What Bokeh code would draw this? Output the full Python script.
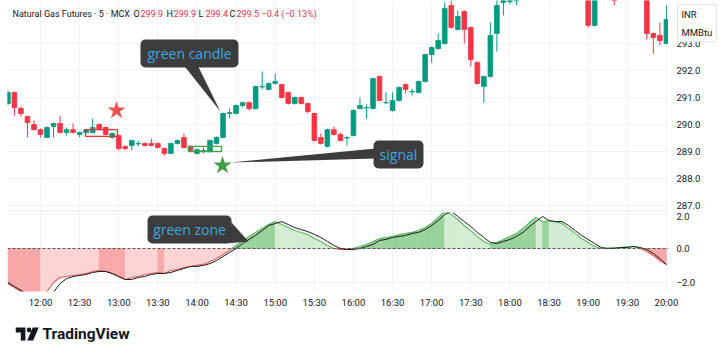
from bokeh.plotting import figure
from bokeh.layouts import column, row
from bokeh.models import Range1d, FixedTicker, Label, Span, ColumnDataSource
from bokeh.core.properties import value
from bokeh.embed import file_html
from bokeh.resources import INLINE

# ---------------- data ----------------
first_bar = "11:35"
bar_minutes = 5
N = None
opens = [290.78, 291.19, 290.59, 290.30, 290.00, 289.81, 289.52, 289.93, 290.04, 289.70,
         289.81, 289.63, 289.70, 289.70, 290.00, 289.89, 289.52, 289.59, 289.19, 289.22,
         289.28, 289.30, 289.30, 289.30, 289.11, 288.93, 289.30, 289.52, 289.19, 288.93,
         289.02, 289.00, 289.30, 289.52, 290.41, 290.41, 290.70, 290.81, 290.59, 291.39,
         291.30, 291.52, 291.48, 291.19, 290.78, 291.00, 290.78, 290.41, 289.52, 289.19,
         289.81, 289.63, 289.50, 289.59, 290.59, 290.61, 290.59, 291.78, 290.80, 290.52,
         290.89, 291.48, 291.21, 291.19, 291.59, 292.59, 292.81, 293.00, 294.41, 293.52,
         294.19, 293.59, 292.30, 291.41, 291.78, 293.37, 294.52, 294.55, 294.70,
         N, N, N, N, N, N, N, N, N, N,
         295.00, 293.67, N, N, 295.20, N, N, N, N, 295.00, 293.37, 293.30, 293.00]
highs = [291.26, 291.22, 290.67, 290.33, 290.15, 289.85, 289.93, 290.07, 290.33, 289.89,
         290.04, 289.74, 289.85, 290.22, 290.04, 289.93, 289.70, 289.63, 289.22, 289.44,
         289.41, 289.33, 289.48, 289.33, 289.15, 289.33, 289.44, 289.67, 289.22, 289.11,
         289.15, 289.44, 289.56, 290.44, 290.59, 290.74, 290.85, 290.85, 291.44, 291.96,
         291.56, 291.89, 291.52, 291.22, 291.04, 291.04, 290.81, 290.44, 289.67, 289.85,
         289.93, 289.70, 289.56, 290.56, 291.00, 290.74, 291.74, 291.81, 291.19, 291.19,
         291.41, 291.52, 291.33, 291.63, 292.63, 292.89, 293.37, 294.52, 294.70, 294.22,
         294.22, 293.63, 292.33, 291.81, 293.78, 294.70, 294.80, 294.80, 295.00,
         N, N, N, N, N, N, N, N, N, N,
         295.20, 295.20, N, N, 295.40, N, N, N, N, 295.20, 293.41, 293.78, 294.41]
lows = [290.70, 290.33, 290.30, 289.52, 289.78, 289.52, 289.52, 289.52, 289.67, 289.59,
        289.67, 289.52, 289.67, 289.67, 289.78, 289.59, 289.48, 289.04, 289.04, 289.04,
        289.19, 289.19, 289.19, 289.11, 288.85, 288.89, 289.26, 289.11, 289.00, 288.89,
        288.93, 288.96, 289.26, 289.48, 290.22, 290.37, 290.63, 290.52, 290.56, 291.30,
        291.26, 291.48, 290.96, 290.74, 290.74, 290.74, 290.41, 289.37, 289.26, 289.15,
        289.59, 289.37, 289.22, 289.56, 290.56, 290.22, 290.56, 290.85, 290.78, 290.48,
        290.85, 291.15, 291.07, 291.15, 291.56, 292.30, 292.78, 292.96, 293.56, 293.48,
        293.00, 292.15, 291.48, 290.81, 291.74, 292.70, 294.04, 294.45, 294.41,
        N, N, N, N, N, N, N, N, N, N,
        293.59, 293.63, N, N, 294.41, N, N, N, N, 293.15, 292.63, 292.93, 292.96]
closes = [291.19, 290.63, 290.41, 290.07, 289.81, 289.63, 289.89, 290.04, 289.70, 289.81,
          289.70, 289.70, 289.81, 289.89, 289.81, 289.63, 289.67, 289.11, 289.11, 289.41,
          289.30, 289.22, 289.22, 289.15, 288.93, 289.30, 289.41, 289.15, 289.04, 289.07,
          289.04, 289.41, 289.52, 290.41, 290.44, 290.70, 290.81, 290.59, 291.41, 291.41,
          291.52, 291.59, 291.00, 290.78, 291.00, 290.78, 290.48, 289.41, 289.30, 289.81,
          289.63, 289.41, 289.52, 290.52, 290.70, 290.63, 291.70, 290.89, 290.81, 290.89,
          291.37, 291.30, 291.22, 291.59, 292.59, 292.85, 293.11, 294.30, 293.59, 294.00,
          293.52, 292.41, 291.52, 291.78, 293.30, 294.41, 294.60, 294.60, 294.80,
          N, N, N, N, N, N, N, N, N, N,
          293.67, 295.00, N, N, 294.90, N, N, N, N, 293.37, 293.22, 293.11, 293.89]

osc_fast = [-2.09, -2.33, -2.57, -2.80, -2.95, -3.00, -2.57, -2.03, -1.73, -1.67,
            -1.61, -1.55, -1.49, -1.37, -1.31, -1.37, -1.49, -1.67, -1.85, -1.73,
            -1.67, -1.55, -1.49, -1.43, -1.49, -1.31, -1.25, -1.13, -1.07, -1.01,
            -0.95, -0.78, -0.60, -0.36, -0.12, 0.18, 0.48, 0.72, 0.96, 1.19,
            1.43, 1.61, 1.43, 1.25, 1.07, 0.96, 0.84, 0.60, 0.42, 0.18,
            0.00, -0.06, -0.06, 0.00, 0.12, 0.24, 0.42, 0.60, 0.66, 0.72,
            0.84, 0.90, 0.96, 1.07, 1.25, 1.49, 1.85, 2.21, 2.03, 1.73,
            1.37, 1.07, 0.72, 0.42, 0.24, 0.36, 0.54, 0.72, 0.90, 1.19,
            1.55, 1.85, 1.60, 1.66, 1.58, 1.50, 1.19, 0.90, 0.60, 0.36,
            0.12, 0.00, 0.02, 0.06, 0.06, 0.12, 0.12, 0.00, -0.18, -0.42,
            -0.72, -0.96]
osc_slow = [-2.03, -2.27, -2.50, -2.75, -2.95, -3.05, -2.95, -2.60, -2.10, -1.80,
            -1.67, -1.61, -1.55, -1.43, -1.37, -1.37, -1.49, -1.67, -1.85, -1.85,
            -1.73, -1.67, -1.55, -1.49, -1.49, -1.43, -1.31, -1.19, -1.07, -1.07,
            -1.01, -0.90, -0.72, -0.48, -0.24, 0.00, 0.30, 0.54, 0.78, 1.07,
            1.37, 1.49, 1.61, 1.43, 1.25, 1.13, 1.01, 0.84, 0.66, 0.42,
            0.18, 0.00, -0.06, -0.06, 0.00, 0.12, 0.24, 0.48, 0.54, 0.66,
            0.72, 0.78, 0.90, 0.96, 1.13, 1.37, 1.67, 2.03, 2.21, 1.91,
            1.61, 1.31, 0.96, 0.66, 0.36, 0.30, 0.42, 0.54, 0.72, 0.96,
            1.31, 1.61, 1.91, 1.67, 1.61, 1.61, 1.37, 1.07, 0.78, 0.54,
            0.30, 0.06, 0.00, 0.00, 0.06, 0.06, 0.12, 0.06, -0.06, -0.30,
            -0.60, -0.96]

time_labels = ["12:00", "12:30", "13:00", "13:30", "14:00", "14:30", "15:00", "15:30",
               "16:00", "16:30", "17:00", "17:30", "18:00", "18:30", "19:00", "19:30", "20:00"]
price_ticks = [287.0, 288.0, 289.0, 290.0, 291.0, 292.0, 293.0]
osc_ticks = [-2.0, 0.0, 2.0]
title_text = "Natural Gas Futures · 5 · MCX"
ohlc_header = [("O", "299.9"), ("H", "299.9"), ("L", "299.4"), ("C", "299.5")]
change_text = "−0.4 (−0.13%)"
unit_text = "INR\nMMBtu"
callouts = ["green candle", "signal", "green zone"]

# ---------------- styling ----------------
UP, DOWN = "#089981", "#F23645"
GRID = "#f0f3fa"
TXT = "#131722"
BUBBLE = "#3c3c3c"
BUBBLE_TXT = "#3aa6e2"
DARK_G, LIGHT_G, DARK_R, LIGHT_R = "#9ad29c", "#d3ecd3", "#f8a8a8", "#fcd4d4"
FONT = "Roboto"
HEAD_SIZE = "9px"
AX_SIZE = "9.5px"


def to_min(s):
    h, m = s.split(":")
    return int(h) * 60 + int(m) - 12 * 60


x0 = to_min(first_bar)
bx = [x0 + k * bar_minutes for k in range(len(opens))]
tick_pos = [to_min(s) for s in time_labels]

X_RANGE = (-25.3, 481.6)

# ---------------- main price pane ----------------
main = figure(width=668, height=212, x_range=Range1d(*X_RANGE), y_range=Range1d(286.778, 294.593),
              output_backend="svg", toolbar_location=None, y_axis_location=None,
              x_axis_location=None, min_border_left=7, min_border_right=0,
              min_border_top=0, min_border_bottom=1)
main.outline_line_color = None
main.background_fill_color = "white"
main.border_fill_color = "white"
main.xgrid.ticker = FixedTicker(ticks=tick_pos)
main.ygrid.ticker = FixedTicker(ticks=price_ticks)
main.grid.grid_line_color = GRID

cs = dict(x=[], o=[], h=[], l=[], c=[], top=[], bot=[], col=[])
for x, o, h, l, c in zip(bx, opens, highs, lows, closes):
    if o is None:
        continue
    cs["x"].append(x); cs["o"].append(o); cs["h"].append(h); cs["l"].append(l); cs["c"].append(c)
    cs["top"].append(max(o, c)); cs["bot"].append(min(o, c))
    cs["col"].append(UP if c >= o else DOWN)
src = ColumnDataSource(cs)
main.segment(x0="x", y0="l", x1="x", y1="h", line_color="col", line_width=1, source=src)
main.vbar(x="x", width=bar_minutes * 0.72, top="top", bottom="bot", fill_color="col",
          line_color="col", line_width=0.8, source=src)

# rectangles around candles
main.quad(left=[34.5], right=[59.0], bottom=[289.56], top=[289.81], fill_color=None,
          line_color="#e53935", line_width=1.3)
main.quad(left=[113.5], right=[138.8], bottom=[289.00], top=[289.19], fill_color=None,
          line_color="#43a047", line_width=1.3)

# stars
main.scatter(x=[58.3], y=[290.52], marker="star", size=19, fill_color="#ef5350", line_color=None)
main.scatter(x=[139.6], y=[288.48], marker="star", size=19, fill_color="#43a047", line_color=None)

# callout: green candle
main.patch(x=[109.7, 120.4, 138.0], y=[292.2, 292.2, 290.48], fill_color=BUBBLE, line_color=None)
main.quad(left=[76.7], right=[151.8], bottom=[292.11], top=[293.15], fill_color=BUBBLE,
          line_color=None, border_radius=5)
main.text(x=[114.3], y=[292.63], text=[callouts[0]], text_align="center", text_baseline="middle",
          text_font=value("Open Sans"), text_font_size="14px", text_color=BUBBLE_TXT)

# callout: signal
main.patch(x=[145.7, 257.0, 257.0], y=[288.59, 289.11, 288.74], fill_color=BUBBLE, line_color=None)
main.quad(left=[255.4], right=[293.7], bottom=[288.37], top=[289.41], fill_color=BUBBLE,
          line_color=None, border_radius=5)
main.text(x=[274.5], y=[288.89], text=[callouts[1]], text_align="center", text_baseline="middle",
          text_font=value("Open Sans"), text_font_size="14px", text_color=BUBBLE_TXT)

# separator between panes
main.add_layout(Span(location=286.80, dimension="width", line_color="#e0e3eb", line_width=1))

# header
main.add_layout(Label(x=5, y=198, x_units="screen", y_units="screen", text=title_text,
                      text_font=FONT, text_font_size=HEAD_SIZE, text_color=TXT, text_baseline="middle"))
hx = [126, 159, 191, 222]
for (k, v), xx in zip(ohlc_header, hx):
    main.add_layout(Label(x=xx, y=198, x_units="screen", y_units="screen", text=k,
                          text_font=FONT, text_font_size=HEAD_SIZE, text_color=TXT, text_baseline="middle"))
    main.add_layout(Label(x=xx + 7, y=198, x_units="screen", y_units="screen", text=v,
                          text_font=FONT, text_font_size=HEAD_SIZE, text_color=DOWN, text_baseline="middle"))
main.add_layout(Label(x=254, y=198, x_units="screen", y_units="screen", text=change_text,
                      text_font=FONT, text_font_size=HEAD_SIZE, text_color=DOWN, text_baseline="middle"))

# ---------------- price scale (right of the main pane) ----------------
scale = figure(width=52, height=212, x_range=Range1d(0, 52), y_range=main.y_range,
               output_backend="svg", toolbar_location=None, x_axis_location=None,
               y_axis_location=None, min_border_left=0, min_border_right=0,
               min_border_top=0, min_border_bottom=1)
scale.outline_line_color = None
scale.grid.visible = False
scale.border_fill_color = "white"
scale.text(x=[8] * len(price_ticks), y=price_ticks, text=[f"{t:.1f}" for t in price_ticks],
           text_baseline="middle", text_align="left", text_font=value(FONT),
           text_font_size=AX_SIZE, text_color=TXT)
scale.add_layout(Label(x=9, y=207, x_units="screen", y_units="screen", text=unit_text,
                       text_font=FONT, text_font_size="9.5px", text_color=TXT,
                       text_baseline="top", text_line_height=1.65, background_fill_color="white",
                       border_line_color="#e0e3eb", padding=4))

# ---------------- oscillator pane ----------------
osc = figure(width=720, height=106, x_range=main.x_range, y_range=Range1d(-2.567, 2.149),
             output_backend="svg", toolbar_location=None, y_axis_location="right",
             min_border_left=7, min_border_right=52, min_border_top=0, min_border_bottom=27)
osc.outline_line_color = None
osc.border_fill_color = "white"
osc.xgrid.ticker = FixedTicker(ticks=tick_pos)
osc.ygrid.ticker = FixedTicker(ticks=osc_ticks)
osc.grid.grid_line_color = GRID
osc.yaxis.ticker = FixedTicker(ticks=osc_ticks)
osc.yaxis.major_label_overrides = {-2.0: "−2.0", 0.0: "0.0", 2.0: "2.0"}
osc.xaxis.ticker = FixedTicker(ticks=tick_pos)
osc.xaxis.major_label_overrides = {p: s for p, s in zip(tick_pos, time_labels)}
for ax in (osc.xaxis, osc.yaxis):
    ax.axis_line_color = None
    ax.major_tick_line_color = None
    ax.minor_tick_line_color = None
    ax.major_tick_out = 0
    ax.minor_tick_out = 0
    ax.major_label_text_font = FONT
    ax.major_label_text_font_size = AX_SIZE
    ax.major_label_text_color = TXT
osc.yaxis.major_label_standoff = 8
osc.xaxis.major_label_standoff = 5

pxs, pys, pcs = [], [], []
lxs, lys, lcs = [], [], []
for k in range(len(bx) - 1):
    xa, xb = bx[k], bx[k + 1]
    va, vb = osc_fast[k], osc_fast[k + 1]
    rising = vb > va
    if va * vb < 0:
        xc = xa + (xb - xa) * va / (va - vb)
        parts = [(xa, va, xc, 0.0), (xc, 0.0, xb, vb)]
    else:
        parts = [(xa, va, xb, vb)]
    for a, v1, b, v2 in parts:
        pos = (v1 + v2) >= 0
        if pos:
            col = DARK_G if rising else LIGHT_G
        else:
            col = LIGHT_R if rising else DARK_R
        pxs.append([a, a, b, b]); pys.append([0, v1, v2, 0]); pcs.append(col)
        lxs.append([a, b]); lys.append([v1, v2]); lcs.append("#5cb860" if pos else "#e25c5c")
osc.patches(pxs, pys, fill_color=pcs, line_color=pcs, line_width=0.6)
osc.add_layout(Span(location=0, dimension="width", line_color="#555555", line_width=1,
                    line_dash="3 2"))
osc.multi_line(lxs, lys, line_color=lcs, line_width=1.1)
osc.line(bx, osc_slow, line_color="#1c1c1c", line_width=1)

# callout: green zone
osc.patch(x=[141.9, 146.5, 159.5], y=[0.30, 1.55, 0.42], fill_color=BUBBLE, line_color=None)
osc.quad(left=[82.1], right=[146.5], bottom=[0.30], top=[1.97], fill_color=BUBBLE,
         line_color=None, border_radius=5)
osc.text(x=[114.3], y=[1.13], text=[callouts[2]], text_align="center", text_baseline="middle",
         text_font=value("Open Sans"), text_font_size="14px", text_color=BUBBLE_TXT)

# ---------------- footer (logo) ----------------
logo = figure(width=720, height=37, x_range=Range1d(0, 720), y_range=Range1d(37, 0),
              output_backend="svg", toolbar_location=None, x_axis_location=None,
              y_axis_location=None, min_border=0)
logo.outline_line_color = None
logo.grid.visible = False
logo.patch(x=[9, 19.5, 19.5, 14.5, 14.5, 9], y=[9, 9, 22, 22, 14, 14], fill_color=TXT, line_color=None)
logo.circle(x=[23.5], y=[11.5], radius=2.6, fill_color=TXT, line_color=None)
logo.patch(x=[27.5, 34, 28, 21.5], y=[9, 9, 22, 22], fill_color=TXT, line_color=None)
logo.text(x=[38], y=[15.5], text=["TradingView"], text_baseline="middle", text_font=value("Roboto"),
          text_font_size="15.5px", text_font_style="bold", text_color=TXT)

layout = column(row(main, scale, spacing=0), osc, logo, spacing=0)
open("out.html", "w").write(file_html(layout, INLINE))
